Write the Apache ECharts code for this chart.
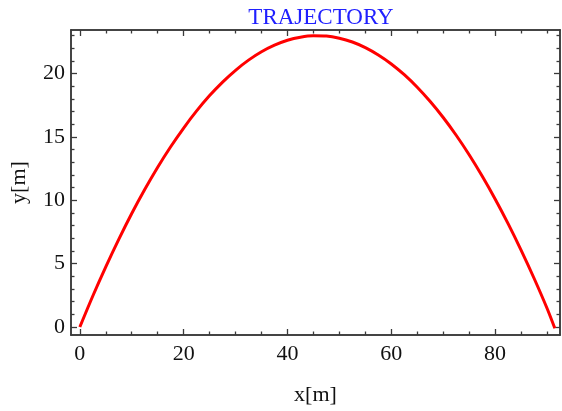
<!DOCTYPE html>
<html>
<head>
<meta charset="utf-8">
<title>Trajectory</title>
<script src="https://cdn.jsdelivr.net/npm/echarts@6/dist/echarts.min.js"></script>
<style>
  html, body { margin: 0; padding: 0; background: #fff; }
  #chart { width: 562px; height: 411px; }
</style>
</head>
<body>
<div id="chart"></div>
<script>
// trajectory points
const xValues = [0, 2.5, 5, 7.5, 10, 12.5, 15, 17.5, 20, 22.5, 25, 27.5, 30, 32.5, 35, 37.5, 40, 42.5, 45, 47.5,
  50, 52.5, 55, 57.5, 60, 62.5, 65, 67.5, 70, 72.5, 75, 77.5, 80, 82.5, 85, 87.5, 90, 91.5]
const yValues = [0, 2.45, 4.75, 6.92, 8.96, 10.85, 12.61, 14.23, 15.71, 17.06, 18.27, 19.34, 20.27, 21.07, 21.73, 22.25, 22.64, 22.88, 22.99, 22.97,
  22.8, 22.5, 22.06, 21.48, 20.77, 19.92, 18.93, 17.8, 16.54, 15.14, 13.6, 11.92, 10.11, 8.16, 6.07, 3.85, 1.48, -0.1]

const xMajor = [0, 20, 40, 60, 80]
const xMinor = [5, 10, 15, 25, 30, 35, 45, 50, 55, 65, 70, 75, 85, 90]
const yMajor = [0, 5, 10, 15, 20]
const yMinor = [1, 2, 3, 4, 6, 7, 8, 9, 11, 12, 13, 14, 16, 17, 18, 19, 21, 22, 23]

const xMin = -1.7, xMax = 92.5
const yMin = -0.63, yMax = 23.45

const frameColor = '#3a3a3a'
const serif = '"Liberation Serif", "DejaVu Serif", serif'

const chart = echarts.init(document.getElementById('chart'))

const makeAxis = (min, max, position, ticks, length, opts = {}) => ({
  type: 'value',
  min,
  max,
  position,
  axisLine: { show: true, onZero: false, lineStyle: { color: frameColor, width: 1.5 } },
  axisTick: { show: true, inside: true, length, customValues: ticks, lineStyle: { color: frameColor, width: 1.3 } },
  axisLabel: { show: false },
  splitLine: { show: false },
  ...opts
})

const option = {
  animation: false,
  title: {
    text: 'TRAJECTORY',
    left: 316,
    textAlign: 'center',
    top: 1,
    textStyle: { fontFamily: serif, fontSize: 23, fontWeight: 'normal', color: '#2020ff' }
  },
  grid: { left: 71, right: 2, top: 30, bottom: 74 },
  xAxis: [
    makeAxis(xMin, xMax, 'bottom', xMajor, 6, {
      name: 'x[m]',
      nameLocation: 'middle',
      nameGap: 49,
      nameTextStyle: { fontFamily: serif, fontSize: 22, color: '#111' },
      axisLabel: {
        show: true, customValues: xMajor, margin: 8,
        fontFamily: serif, fontSize: 22, color: '#111'
      }
    }),
    makeAxis(xMin, xMax, 'bottom', xMinor, 3.5),
    makeAxis(xMin, xMax, 'top', xMajor, 6),
    makeAxis(xMin, xMax, 'top', xMinor, 3.5)
  ],
  yAxis: [
    makeAxis(yMin, yMax, 'left', yMajor, 6, {
      name: 'y[m]',
      nameLocation: 'middle',
      nameGap: 41,
      nameRotate: 90,
      nameTextStyle: { fontFamily: serif, fontSize: 22, color: '#111' },
      axisLabel: {
        show: true, customValues: yMajor, margin: 6,
        fontFamily: serif, fontSize: 22, color: '#111'
      }
    }),
    makeAxis(yMin, yMax, 'left', yMinor, 3.5),
    makeAxis(yMin, yMax, 'right', yMajor, 6),
    makeAxis(yMin, yMax, 'right', yMinor, 3.5)
  ],
  series: [{
    type: 'line',
    data: xValues.map((x, i) => [x, yValues[i]]),
    smooth: 0.3,
    showSymbol: false,
    lineStyle: { color: '#ff0000', width: 3 },
    clip: false
  }]
}

chart.setOption(option)
</script>
</body>
</html>
